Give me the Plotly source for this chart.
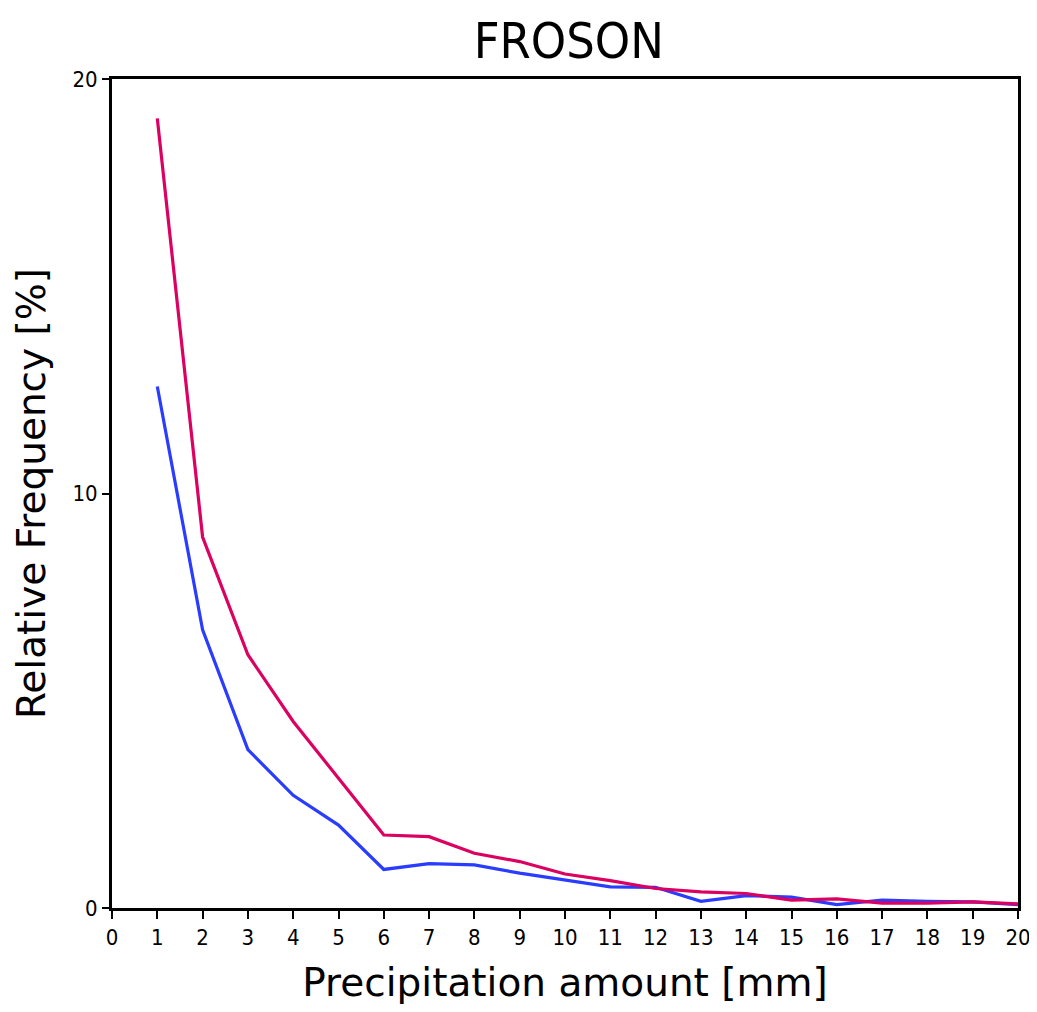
import plotly.graph_objects as go

amount_mm = list(range(1, 21))
freq_red = [19.05, 8.95, 6.11, 4.5, 3.13, 1.76, 1.72, 1.32, 1.12, 0.82,
            0.66, 0.47, 0.39, 0.35, 0.19, 0.22, 0.12, 0.12, 0.15, 0.10]
freq_blue = [12.58, 6.71, 3.82, 2.72, 2.0, 0.93, 1.07, 1.04, 0.84, 0.68,
             0.51, 0.50, 0.16, 0.30, 0.26, 0.08, 0.19, 0.16, 0.15, 0.08]
x_ticks = list(range(0, 21))
y_ticks = [0, 10, 20]

fig = go.Figure()
fig.add_trace(go.Scatter(x=amount_mm, y=freq_blue, mode="lines",
                         line=dict(color="#2a3cff", width=3.2), showlegend=False))
fig.add_trace(go.Scatter(x=amount_mm, y=freq_red, mode="lines",
                         line=dict(color="#dc0060", width=3.2), showlegend=False))

cond = "DejaVu Sans Condensed, DejaVu Sans, sans-serif"
norm = "DejaVu Sans, sans-serif"
fig.update_layout(
    width=1029, height=1004,
    margin=dict(l=104, r=19, t=71, b=104, autoexpand=False),
    paper_bgcolor="white", plot_bgcolor="white",
    title=dict(text="FROSON", x=0.545, xanchor="center", y=0.968, yanchor="middle",
               font=dict(family=cond, size=50, color="black")),
    xaxis=dict(range=[0, 20], tickvals=x_ticks, ticktext=[str(v) for v in x_ticks],
               showline=True, linecolor="black", linewidth=3, mirror=True,
               ticks="outside", ticklen=8, tickwidth=2, tickcolor="black",
               showgrid=False, zeroline=False, automargin=False,
               tickfont=dict(family=cond, size=22, color="black"),
               title=dict(text="Precipitation amount [mm]", standoff=20,
                          font=dict(family=norm, size=39, color="black"))),
    yaxis=dict(range=[0, 20], tickvals=y_ticks, ticktext=[str(v) for v in y_ticks],
               showline=True, linecolor="black", linewidth=3, mirror=True,
               ticks="outside", ticklen=7, tickwidth=2, tickcolor="black",
               showgrid=False, zeroline=False, automargin=False,
               tickfont=dict(family=cond, size=22, color="black"),
               title=dict(text="Relative Frequency [%]", standoff=15,
                          font=dict(family=norm, size=39, color="black"))),
)
fig.write_html("out.html")
